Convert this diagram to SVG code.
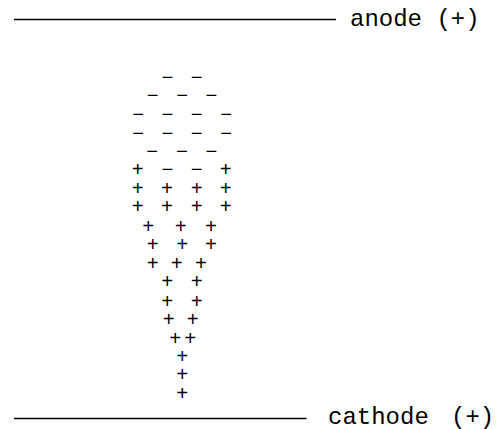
<svg xmlns="http://www.w3.org/2000/svg" width="504" height="429" viewBox="0 0 504 429">
<style>
.lbl{font-family:"Liberation Mono","Courier New",monospace;font-size:24px;fill:#000}
.sym{font-family:"Liberation Mono","Courier New",monospace;font-size:20px;fill:#000;text-anchor:middle}
.rule{stroke:#000;stroke-width:1.3}
</style>
<rect width="504" height="429" fill="#fff"/>
<g id="anode">
<line class="rule" x1="14" y1="19.5" x2="336" y2="19.5"/>
<text class="lbl" x="350" y="26">anode (+)</text>
</g>
<g id="cathode">
<line class="rule" x1="14" y1="418.5" x2="306.5" y2="418.5"/>
<text class="lbl" x="328" y="423.5">cathode<tspan x="451">(+)</tspan></text>
</g>
<g id="charges">
<text class="sym" x="167.5 196.8" y="83.7">−−</text>
<text class="sym" x="152.8 182.2 211.5" y="101.7">−−−</text>
<text class="sym" x="138.2 167.5 196.8 226.2" y="120.7">−−−−</text>
<text class="sym" x="138.2 167.5 196.8 226.2" y="139.7">−−−−</text>
<text class="sym" x="152.3 182 211.5" y="158.1">−−−</text>
<text class="sym" x="137.7 167.5 196.8 225.7" y="176.4">+−−+</text>
<text class="sym" x="137.7 167 196.8 225.7" y="194.7">++++</text>
<text class="sym" x="137.7 167 196.8 225.7" y="213.1">++++</text>
<text class="sym" x="148.3 180.7 211" y="233.1">+++</text>
<text class="sym" x="152.7 182.3 211" y="251.4">+++</text>
<text class="sym" x="152.7 176.7 201" y="269.7">+++</text>
<text class="sym" x="167.3 196.7" y="288.4">++</text>
<text class="sym" x="167.3 196.7" y="308.1">++</text>
<text class="sym" x="168.7 192.7" y="325.7">++</text>
<text class="sym" x="175.3 190.3" y="344.7">++</text>
<text class="sym" x="182.3" y="363.4">+</text>
<text class="sym" x="182.3" y="381.4">+</text>
<text class="sym" x="182.3" y="400.4">+</text>
</g>
</svg>
